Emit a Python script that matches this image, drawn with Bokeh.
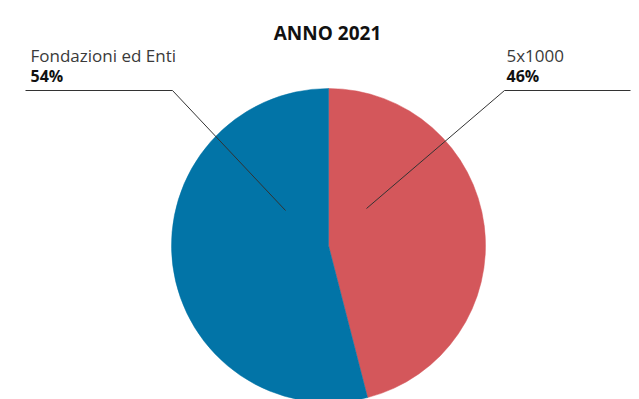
import numpy as np
from bokeh.plotting import figure
from bokeh.models import Range1d, ColumnDataSource
from bokeh.core.properties import value
from bokeh.embed import file_html
from bokeh.resources import INLINE

# Data
categories = ["5x1000", "Fondazioni ed Enti"]
shares = [46, 54]
colors = ["#d4575b", "#0274a7"]
title_text = "ANNO 2021"

W, H = 639, 399
p = figure(width=W, height=H, output_backend="svg", toolbar_location=None,
           x_range=Range1d(0, W), y_range=Range1d(0, H), min_border=0)
p.axis.visible = False
p.grid.visible = False
p.outline_line_color = None
p.background_fill_color = "white"
p.border_fill_color = "white"

def Y(py):
    return H - py

cx, cy, r = 328, 245, 157

# wedges: start at top, clockwise
frac = np.array(shares, dtype=float) / sum(shares)
cum = np.concatenate([[0], np.cumsum(frac)])
start = np.pi / 2 - cum[1:] * 2 * np.pi
end = np.pi / 2 - cum[:-1] * 2 * np.pi
src = ColumnDataSource(dict(start=start, end=end, color=colors, cat=categories))
p.wedge(x=cx, y=Y(cy), radius=r, start_angle="start", end_angle="end",
        fill_color="color", line_color="color", line_width=0.5, source=src)

# leader lines
p.line(x=[366, 504, 630], y=[Y(208), Y(90), Y(90)], line_color="#333333", line_width=1)
p.line(x=[285, 172, 25], y=[Y(210), Y(90), Y(90)], line_color="#333333", line_width=1)

font = value("Open Sans")
# labels
labels = [
    (30, categories[1], f"{shares[1]}%"),
    (506, categories[0], f"{shares[0]}%"),
]
for lx, name, pct in labels:
    p.text(x=[lx], y=[Y(55)], text=[name], text_font=font, text_font_size="17px",
           text_color="#3a3a3a", text_baseline="alphabetic", text_align="left")
    p.text(x=[lx], y=[Y(75)], text=[pct], text_font=font, text_font_size="16px",
           text_font_style="bold", text_color="#111111", text_baseline="alphabetic", text_align="left")

p.text(x=[327], y=[Y(32)], text=[title_text], text_font=font, text_font_size="19px",
       text_font_style="bold", text_color="#111111", text_baseline="alphabetic", text_align="center")

open("out.html", "w").write(file_html(p, INLINE))
